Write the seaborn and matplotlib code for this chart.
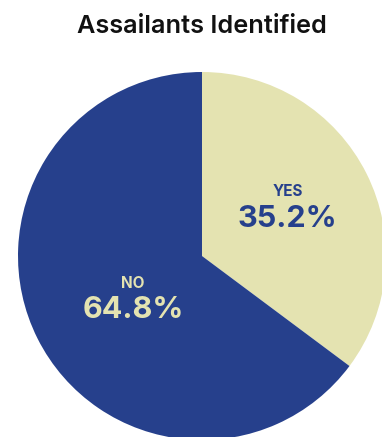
import numpy as np
import matplotlib
matplotlib.use("Agg")
import matplotlib.pyplot as plt
import seaborn as sns

# Survey result: were assailants identified?
categories = ["YES", "NO"]
shares = [35.2, 64.8]
slice_colors = ["#E4E3B1", "#26408C"]
label_colors = ["#26408C", "#E4E3B1"]
title = "Assailants Identified"

sns.set_theme(style="white")
plt.rcParams["font.family"] = ["Inter", "DejaVu Sans"]

W, H, DPI = 382, 437, 100
fig = plt.figure(figsize=(W / DPI, H / DPI), dpi=DPI)
fig.patch.set_facecolor("white")

# Pie of radius 1 mapped to a 184 px radius centred at (202, 256) from top-left
R_PX, CX, CY = 184.0, 202.0, 256.0
ax = fig.add_axes([0, 0, 1, 1])

wedges, _ = ax.pie(
    shares,
    colors=slice_colors,
    startangle=90,
    counterclock=False,
    radius=1.0,
    wedgeprops=dict(linewidth=0, antialiased=True),
)
ax.set_aspect("auto")
ax.set_xlim(-CX / R_PX, (W - CX) / R_PX)
ax.set_ylim(-(H - CY) / R_PX, CY / R_PX)
ax.axis("off")

# Category name and percentage inside each slice
label_radius = {"YES": 0.54, "NO": 0.435}
for w, cat, val, col in zip(wedges, categories, shares, label_colors):
    mid = np.deg2rad((w.theta1 + w.theta2) / 2 + 4)
    r = label_radius[cat]
    x, y = r * np.cos(mid), r * np.sin(mid)
    ax.text(x, y + 0.073, cat, ha="center", va="center", color=col,
            fontsize=11, fontweight="bold")
    ax.text(x, y - 0.073, f"{val:.1f}%", ha="center", va="center", color=col,
            fontsize=22, fontweight="bold")

fig.text(202 / W, (H - 33) / H, title, ha="center", va="baseline",
         fontsize=18.2, fontweight="semibold", color="#111111")

fig.savefig("out.png", dpi=DPI, facecolor="white")
